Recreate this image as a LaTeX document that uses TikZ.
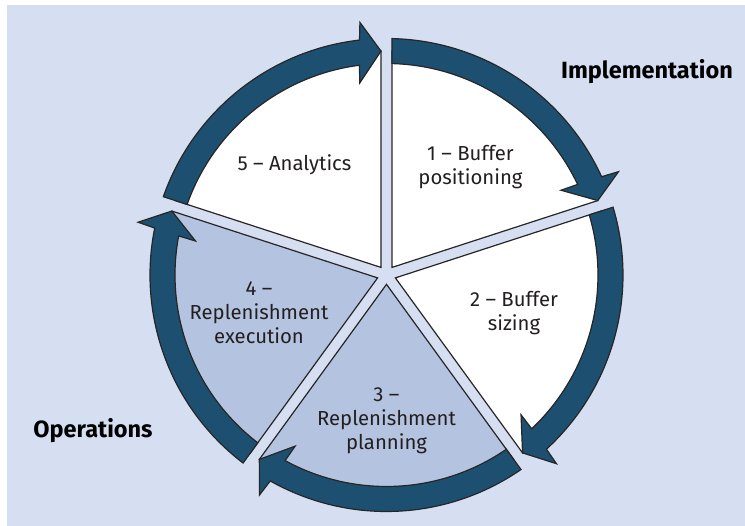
\documentclass[tikz,border=0pt]{standalone}
\usepackage{fontspec}
\setmainfont{Fira Sans}
\definecolor{bg}{HTML}{D6DEF2}
\definecolor{seg}{HTML}{B4C3DF}
\definecolor{arr}{HTML}{1D5070}
\definecolor{ln}{HTML}{262626}
\definecolor{txt}{HTML}{231F20}
\begin{document}
\begin{tikzpicture}[x=1pt,y=1pt,
  sector/.style={draw=ln, line width=1.2pt, line join=miter},
  cyclearrow/.style={draw=ln, fill=arr, line width=1.2pt, line join=miter},
  lbl/.style={text=txt, font=\fontsize{20.3}{24}\selectfont, align=center, inner sep=0pt},
  phase/.style={text=black, font=\fontsize{23.5}{26}\selectfont\bfseries, inner sep=0pt}]
\useasboundingbox (-386.5,-251) rectangle (358.5,275);
\fill[white] (-386.5,-251) rectangle (358.5,275);
\fill[bg] (-379.5,-251) rectangle (358.5,270);
% sectors
\foreach \a/\b/\f in {18/90/white, -54/18/white, -126/-54/seg, 162/234/seg, 90/162/white}{
  \pgfmathsetmacro\m{(\a+\b)/2}
  \draw[sector, fill=\f] (\m:9.36) -- (\a+1.407:224)
    arc[start angle=\a+1.407, end angle=\b-1.407, radius=224] -- cycle;
}
% arrows
\foreach \a/\b in {18/90, -54/18, -126/-54, 162/234, 90/162}{
  \pgfmathsetmacro\t{\a+1.407}
  \draw[cyclearrow] (\b-1.333:236.5)
    arc[start angle=\b-1.333, end angle=\t+5.15, radius=236.5]
    -- (\t+4.6:254) -- (\t:224) -- (\t+6.5:194) -- (\t+5.95:211.5)
    arc[start angle=\t+5.95, end angle=\b-1.49, radius=211.5] -- cycle;
}
\node[lbl] (s5) at (-92,110) {5 – Analytics};
\node[lbl] (s1) at (84,107.5) {1 – Buffer\\positioning};
\node[lbl] (s2) at (127.5,-38.5) {2 – Buffer\\sizing};
\node[lbl] (s3) at (0,-145.5) {3 –\\Replenishment\\planning};
\node[lbl] (s4) at (-127.5,-38) {4 –\\Replenishment\\execution};
\node[phase] (impl) at (260.5,203) {Implementation};
\node[phase] (ops) at (-293.5,-156) {Operations};
\end{tikzpicture}
\end{document}
